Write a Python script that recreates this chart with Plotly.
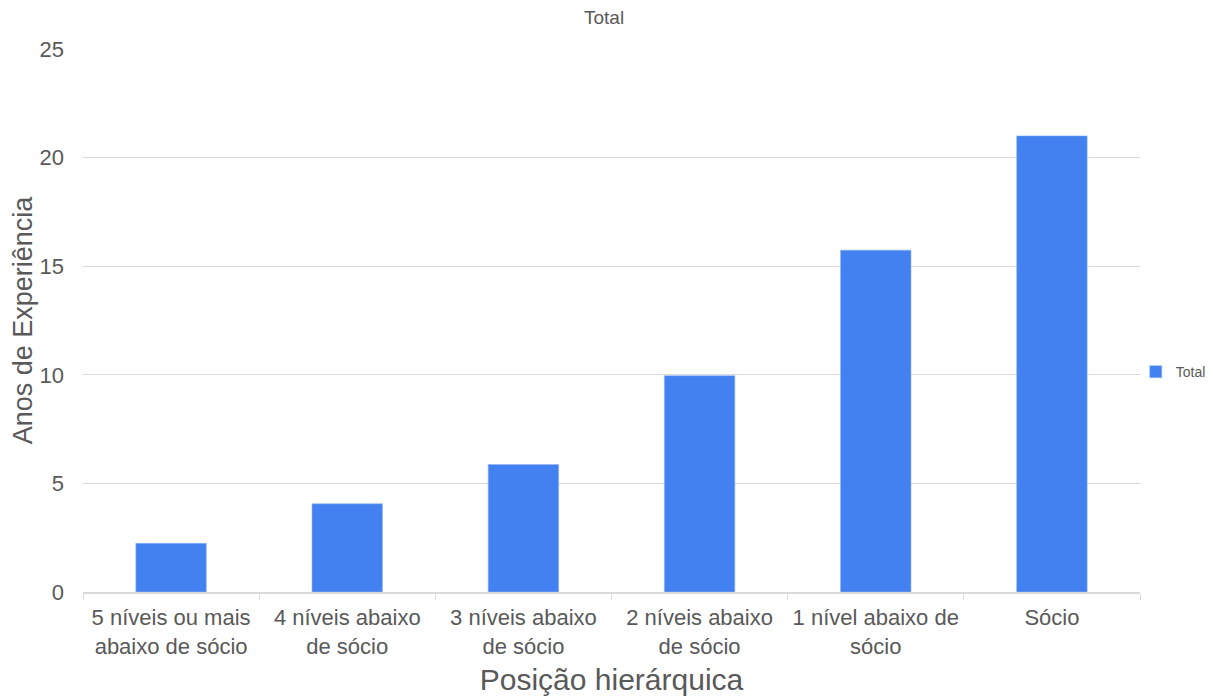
import plotly.graph_objects as go

categories = [
    "5 níveis ou mais<br>abaixo de sócio",
    "4 níveis abaixo<br>de sócio",
    "3 níveis abaixo<br>de sócio",
    "2 níveis abaixo<br>de sócio",
    "1 nível abaixo de<br>sócio",
    "Sócio",
]
values = [2.24, 4.06, 5.87, 9.96, 15.74, 21.0]
y_ticks = [0, 5, 10, 15, 20, 25]

FONT = "Liberation Sans, Arial, sans-serif"
GRAY = "#595959"

fig = go.Figure()
fig.add_trace(go.Bar(
    x=categories, y=values, name="Total",
    marker=dict(color="#4281EF", line=dict(color="#8fb4f5", width=0.6)),
))

# page body has an 8px margin: compensate so the plot lands where the reference has it
fig.update_layout(
    width=1205, height=689,
    margin=dict(l=75, r=73, t=41, b=105, autoexpand=False),
    paper_bgcolor="white", plot_bgcolor="white",
    font=dict(family=FONT, color=GRAY),
    title=dict(text="Total", x=0.493, xref="paper", xanchor="center",
               y=1, yref="container", yanchor="top", pad=dict(t=3),
               font=dict(size=19, color=GRAY)),
    bargap=0.6,
    showlegend=True,
    legend=dict(x=0.996, xanchor="left", y=0.405, yanchor="middle",
                font=dict(size=14, color=GRAY), itemwidth=30,
                bgcolor="rgba(0,0,0,0)"),
)
fig.update_xaxes(
    showline=True, linecolor="#d9d9d9", linewidth=1.5, automargin=False,
    ticks="outside", tickson="boundaries", ticklen=6, tickcolor="#d9d9d9",
    tickangle=0,
    tickfont=dict(size=22, color=GRAY), ticklabelstandoff=5,
    title=dict(text="Posição hierárquica", font=dict(size=30, color=GRAY), standoff=11),
)
fig.update_yaxes(
    range=[0, 25], tickvals=y_ticks, showgrid=True, gridcolor="#d9d9d9", gridwidth=1,
    zeroline=False, showline=False, ticks="", ticklabelstandoff=18, automargin=False,
    tickfont=dict(size=22, color=GRAY),
    title=dict(text="Anos de Experiência", font=dict(size=27, color=GRAY), standoff=8),
)

fig.write_html("out.html")
